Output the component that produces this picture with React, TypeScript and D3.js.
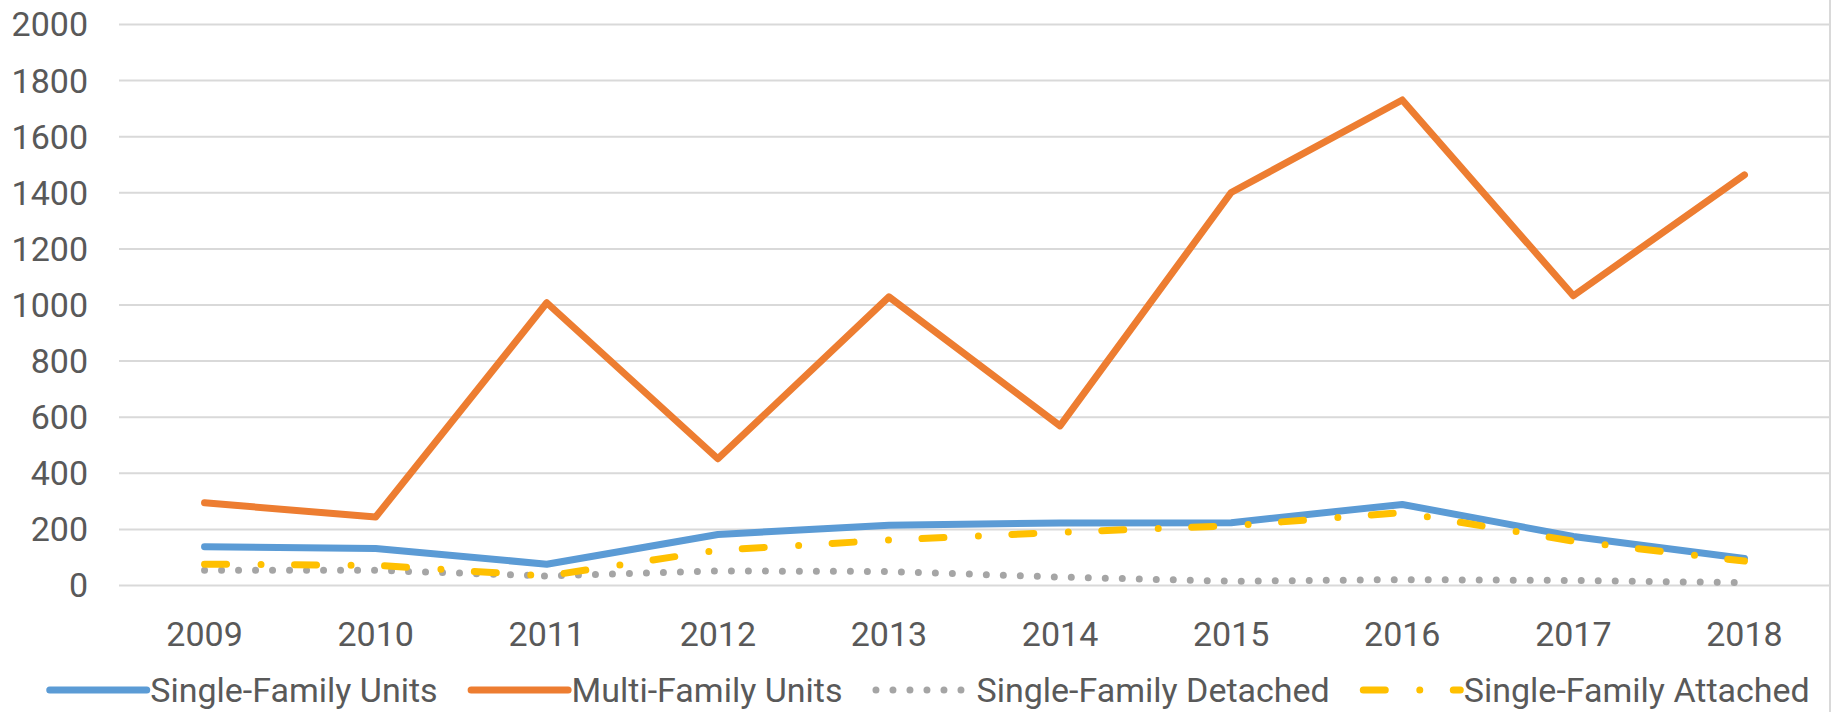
import * as d3 from "d3";
import { useEffect, useRef } from "react";

const years = ["2009", "2010", "2011", "2012", "2013", "2014", "2015", "2016", "2017", "2018"];
const yTicks = [0, 200, 400, 600, 800, 1000, 1200, 1400, 1600, 1800, 2000];

const singleFamilyUnits = [138, 132, 76, 182, 215, 223, 224, 289, 175, 96];
const multiFamilyUnits = [295, 244, 1008, 452, 1029, 569, 1401, 1731, 1033, 1464];
const singleFamilyDetached = [54, 54, 34, 52, 50, 30, 15, 21, 18, 10];
const singleFamilyAttached = [76, 72, 34, 126, 162, 190, 213, 260, 158, 87];

type Series = {
  name: string;
  values: number[];
  color: string;
  dash: string | null;
};

const series: Series[] = [
  { name: "Single-Family Units", values: singleFamilyUnits, color: "#5B9BD5", dash: null },
  { name: "Multi-Family Units", values: multiFamilyUnits, color: "#ED7D31", dash: null },
  { name: "Single-Family Detached", values: singleFamilyDetached, color: "#A5A5A5", dash: "0 17" },
  { name: "Single-Family Attached", values: singleFamilyAttached, color: "#FFC000", dash: "22 34.5 0 33.5" },
];

const width = 1832;
const height = 712;
const font = "Roboto, 'Noto Sans', sans-serif";
const textColor = "#595959";

export default function App() {
  const ref = useRef<SVGSVGElement>(null);

  useEffect(() => {
    document.body.style.margin = "0";
    if (!ref.current) return;
    const svg = d3.select(ref.current);
    svg.selectAll("*").remove();

    const x = d3.scaleBand<string>().domain(years).range([119, 1830]);
    const y = d3.scaleLinear().domain([0, 2000]).range([585.5, 24.5]);

    // gridlines
    svg
      .append("g")
      .selectAll("line")
      .data(yTicks)
      .enter()
      .append("line")
      .attr("x1", 119)
      .attr("x2", 1830)
      .attr("y1", (d) => y(d))
      .attr("y2", (d) => y(d))
      .attr("stroke", "#d9d9d9")
      .attr("stroke-width", 2);

    svg
      .append("line")
      .attr("x1", 1830)
      .attr("x2", 1830)
      .attr("y1", 0)
      .attr("y2", height)
      .attr("stroke", "#d9d9d9")
      .attr("stroke-width", 2);

    // y labels
    svg
      .append("g")
      .selectAll("text")
      .data(yTicks)
      .enter()
      .append("text")
      .attr("x", 88)
      .attr("y", (d) => y(d))
      .attr("dy", "0.35em")
      .attr("text-anchor", "end")
      .attr("font-family", font)
      .attr("font-size", 34)
      .attr("fill", textColor)
      .text((d) => d);

    // x labels
    svg
      .append("g")
      .selectAll("text")
      .data(years)
      .enter()
      .append("text")
      .attr("x", (d) => x(d)! + x.bandwidth() / 2)
      .attr("y", 646)
      .attr("text-anchor", "middle")
      .attr("font-family", font)
      .attr("font-size", 34)
      .attr("fill", textColor)
      .text((d) => d);

    const line = d3
      .line<number>()
      .x((_, i) => x(years[i])! + x.bandwidth() / 2)
      .y((d) => y(d));

    series.forEach((s) => {
      svg
        .append("path")
        .attr("d", line(s.values))
        .attr("fill", "none")
        .attr("stroke", s.color)
        .attr("stroke-width", 7)
        .attr("stroke-linejoin", "round")
        .attr("stroke-linecap", "round")
        .attr("stroke-dasharray", s.dash);
    });

    // legend, laid out in sequence and centred
    const legend = svg.append("g");
    const symbolLen = 97;
    const items = series.map((s) => {
      const g = legend.append("g");
      g.append("line")
        .attr("x1", 3.5)
        .attr("x2", 3.5 + symbolLen)
        .attr("y1", 690)
        .attr("y2", 690)
        .attr("stroke", s.color)
        .attr("stroke-width", 7)
        .attr("stroke-linecap", "round")
        .attr("stroke-dasharray", s.dash);
      const t = g
        .append("text")
        .attr("x", symbolLen + 7)
        .attr("y", 690)
        .attr("dy", "0.35em")
        .attr("font-family", font)
        .attr("font-size", 34)
        .attr("fill", textColor)
        .text(s.name);
      const w = symbolLen + 7 + (t.node() as SVGTextElement).getComputedTextLength();
      return { g, w };
    });
    const gap = 30;
    const total = d3.sum(items, (d) => d.w) + gap * (items.length - 1);
    let cx = 928 - total / 2;
    items.forEach((it) => {
      it.g.attr("transform", `translate(${cx},0)`);
      cx += it.w + gap;
    });
  }, []);

  return <svg ref={ref} width={width} height={height} style={{ display: "block" }} />;
}
